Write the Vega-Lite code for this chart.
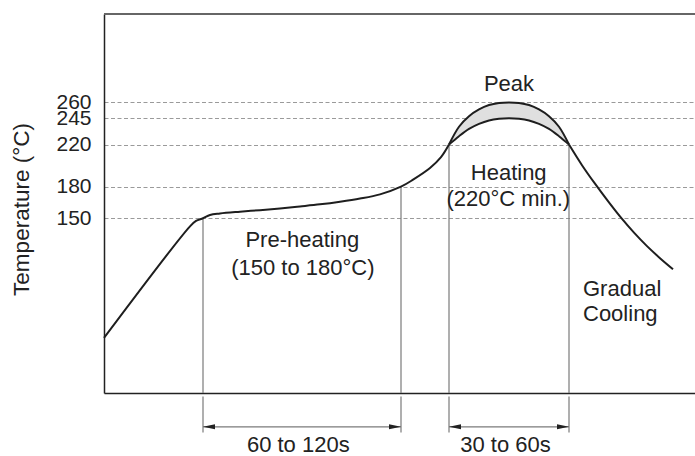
{
  "$schema": "https://vega.github.io/schema/vega-lite/v6.json",
  "width": 591,
  "height": 379,
  "autosize": {"type": "none"},
  "padding": {"left": 104, "top": 14, "right": 0, "bottom": 63},
  "background": "white",
  "config": {"view": {"stroke": null}, "font": "Liberation Sans"},
  "datasets": {
    "frame": [{"temp": 344}],
    "curve": [
      {"seg": "rise", "t": 0, "temp": 36.3},
      {"seg": "rise", "t": 86, "temp": 142.3},
      {"seg": "rise", "t": 92, "temp": 147.4},
      {"seg": "rise", "t": 99, "temp": 150},
      {"seg": "rise", "t": 106, "temp": 153.1},
      {"seg": "rise", "t": 116, "temp": 154.5},
      {"seg": "rise", "t": 136, "temp": 156.2},
      {"seg": "rise", "t": 156, "temp": 157.7},
      {"seg": "rise", "t": 176, "temp": 159.3},
      {"seg": "rise", "t": 196, "temp": 161.2},
      {"seg": "rise", "t": 216, "temp": 163.2},
      {"seg": "rise", "t": 236, "temp": 165.7},
      {"seg": "rise", "t": 256, "temp": 168.7},
      {"seg": "rise", "t": 276, "temp": 172.7},
      {"seg": "rise", "t": 297, "temp": 180},
      {"seg": "rise", "t": 309, "temp": 186.6},
      {"seg": "rise", "t": 326, "temp": 197.7},
      {"seg": "rise", "t": 337, "temp": 208},
      {"seg": "rise", "t": 345, "temp": 220},
      {"seg": "cool", "t": 465, "temp": 220},
      {"seg": "cool", "t": 478, "temp": 200.4},
      {"seg": "cool", "t": 491, "temp": 182.8},
      {"seg": "cool", "t": 504, "temp": 166.2},
      {"seg": "cool", "t": 517, "temp": 150.5},
      {"seg": "cool", "t": 530, "temp": 136.3},
      {"seg": "cool", "t": 543, "temp": 123.5},
      {"seg": "cool", "t": 556, "temp": 112.1},
      {"seg": "cool", "t": 569, "temp": 101.6}
    ],
    "arc": [
      {"t": 345, "lo": 220, "hi": 220},
      {"t": 355, "lo": 227.9, "hi": 236.9},
      {"t": 365, "lo": 234.8, "hi": 246.9},
      {"t": 375, "lo": 239.6, "hi": 253.3},
      {"t": 385, "lo": 242.9, "hi": 257.5},
      {"t": 395, "lo": 244.5, "hi": 259.5},
      {"t": 405, "lo": 245, "hi": 260},
      {"t": 415, "lo": 244.5, "hi": 259.5},
      {"t": 425, "lo": 242.9, "hi": 257.5},
      {"t": 435, "lo": 239.6, "hi": 253.3},
      {"t": 445, "lo": 234.8, "hi": 246.9},
      {"t": 455, "lo": 227.9, "hi": 236.9},
      {"t": 465, "lo": 220, "hi": 220}
    ],
    "vlines": [
      {"t": 99, "top": 150, "bottom": -16},
      {"t": 297, "top": 180, "bottom": -16},
      {"t": 345, "top": 220, "bottom": -16},
      {"t": 465, "top": 220, "bottom": -16},
      {"t": 99, "top": -19.4, "bottom": -53.5},
      {"t": 297, "top": -19.4, "bottom": -53.5},
      {"t": 345, "top": -19.4, "bottom": -53.5},
      {"t": 465, "top": -19.4, "bottom": -53.5}
    ],
    "arrows": [
      {"start": 99, "end": 297, "y": -48.1},
      {"start": 345, "end": 465, "y": -48.1}
    ],
    "labels": [
      {"t": 405, "temp": 270.4, "label": "Peak", "align": "center"},
      {"t": 404.7, "temp": 185.9, "label": "Heating", "align": "center"},
      {"t": 404.3, "temp": 161.2, "label": "(220°C min.)", "align": "center"},
      {"t": 198.3, "temp": 122.3, "label": "Pre-heating", "align": "center"},
      {"t": 198.8, "temp": 96.4, "label": "(150 to 180°C)", "align": "center"},
      {"t": 479, "temp": 75.8, "label": "Gradual", "align": "left"},
      {"t": 479, "temp": 52.1, "label": "Cooling", "align": "left"},
      {"t": 194.3, "temp": -71.6, "label": "60 to 120s", "align": "center"},
      {"t": 401.5, "temp": -71.6, "label": "30 to 60s", "align": "center"}
    ]
  },
  "layer": [
    {
      "data": {"name": "arc"},
      "mark": {"type": "area", "interpolate": "catmull-rom", "color": "#dfdfdf"},
      "encoding": {
        "x": {"field": "t", "type": "quantitative", "scale": {"domain": [0, 591], "nice": false, "zero": false},
          "axis": {"orient": "bottom", "domain": true, "domainColor": "#222", "domainWidth": 1.5, "ticks": false, "labels": false, "grid": false, "title": null}},
        "y": {"field": "hi", "type": "quantitative", "scale": {"domain": [-16, 344], "nice": false, "zero": false},
          "axis": {"orient": "left", "values": [150, 180, 220, 245, 260], "domain": true, "domainColor": "#222", "domainWidth": 1.5, "ticks": false,
            "grid": true, "gridDash": [4, 2.5], "gridColor": "#9a9a9a", "gridWidth": 1,
            "labelFont": "Liberation Sans", "labelFontSize": 21, "labelColor": "#222", "labelPadding": 13, "labelOverlap": false,
            "title": "Temperature (°C)", "titleFont": "Liberation Sans", "titleFontSize": 22.5, "titleFontWeight": "normal", "titleColor": "#222",
            "titleX": -83, "titleY": 195, "titleAngle": 270, "titleAlign": "center", "titleBaseline": "middle"}},
        "y2": {"field": "lo"}
      }
    },
    {
      "data": {"name": "frame"},
      "mark": {"type": "rule", "color": "#666", "strokeWidth": 2},
      "encoding": {
        "y": {"field": "temp", "type": "quantitative"}
      }
    },
    {
      "data": {"name": "vlines"},
      "mark": {"type": "rule", "color": "#7a7a7a", "strokeWidth": 1.2},
      "encoding": {
        "x": {"field": "t", "type": "quantitative"},
        "y": {"field": "top", "type": "quantitative"},
        "y2": {"field": "bottom"}
      }
    },
    {
      "data": {"name": "arrows"},
      "mark": {"type": "rule", "color": "#7a7a7a", "strokeWidth": 1.2},
      "encoding": {
        "x": {"field": "start", "type": "quantitative"},
        "x2": {"field": "end"},
        "y": {"field": "y", "type": "quantitative"}
      }
    },
    {
      "data": {"name": "arrows"},
      "mark": {"type": "point", "shape": "M0,0L2.4,-0.5L2.4,0.5Z", "size": 100, "filled": true, "color": "#222", "opacity": 1},
      "encoding": {
        "x": {"field": "start", "type": "quantitative"},
        "y": {"field": "y", "type": "quantitative"}
      }
    },
    {
      "data": {"name": "arrows"},
      "mark": {"type": "point", "shape": "M0,0L-2.4,-0.5L-2.4,0.5Z", "size": 100, "filled": true, "color": "#222", "opacity": 1},
      "encoding": {
        "x": {"field": "end", "type": "quantitative"},
        "y": {"field": "y", "type": "quantitative"}
      }
    },
    {
      "data": {"name": "curve"},
      "mark": {"type": "line", "interpolate": "catmull-rom", "color": "#1e1e1e", "strokeWidth": 2},
      "encoding": {
        "x": {"field": "t", "type": "quantitative"},
        "y": {"field": "temp", "type": "quantitative"},
        "detail": {"field": "seg"}
      }
    },
    {
      "data": {"name": "arc"},
      "mark": {"type": "line", "interpolate": "catmull-rom", "color": "#1e1e1e", "strokeWidth": 2},
      "encoding": {
        "x": {"field": "t", "type": "quantitative"},
        "y": {"field": "hi", "type": "quantitative"}
      }
    },
    {
      "data": {"name": "arc"},
      "mark": {"type": "line", "interpolate": "catmull-rom", "color": "#1e1e1e", "strokeWidth": 2},
      "encoding": {
        "x": {"field": "t", "type": "quantitative"},
        "y": {"field": "lo", "type": "quantitative"}
      }
    },
    {
      "data": {"name": "labels"},
      "transform": [{"filter": "datum.align === 'center'"}],
      "mark": {"type": "text", "align": "center", "baseline": "alphabetic", "font": "Liberation Sans", "fontSize": 22, "color": "#222"},
      "encoding": {
        "x": {"field": "t", "type": "quantitative"},
        "y": {"field": "temp", "type": "quantitative"},
        "text": {"field": "label"}
      }
    },
    {
      "data": {"name": "labels"},
      "transform": [{"filter": "datum.align === 'left'"}],
      "mark": {"type": "text", "align": "left", "baseline": "alphabetic", "font": "Liberation Sans", "fontSize": 22, "color": "#222"},
      "encoding": {
        "x": {"field": "t", "type": "quantitative"},
        "y": {"field": "temp", "type": "quantitative"},
        "text": {"field": "label"}
      }
    }
  ]
}
